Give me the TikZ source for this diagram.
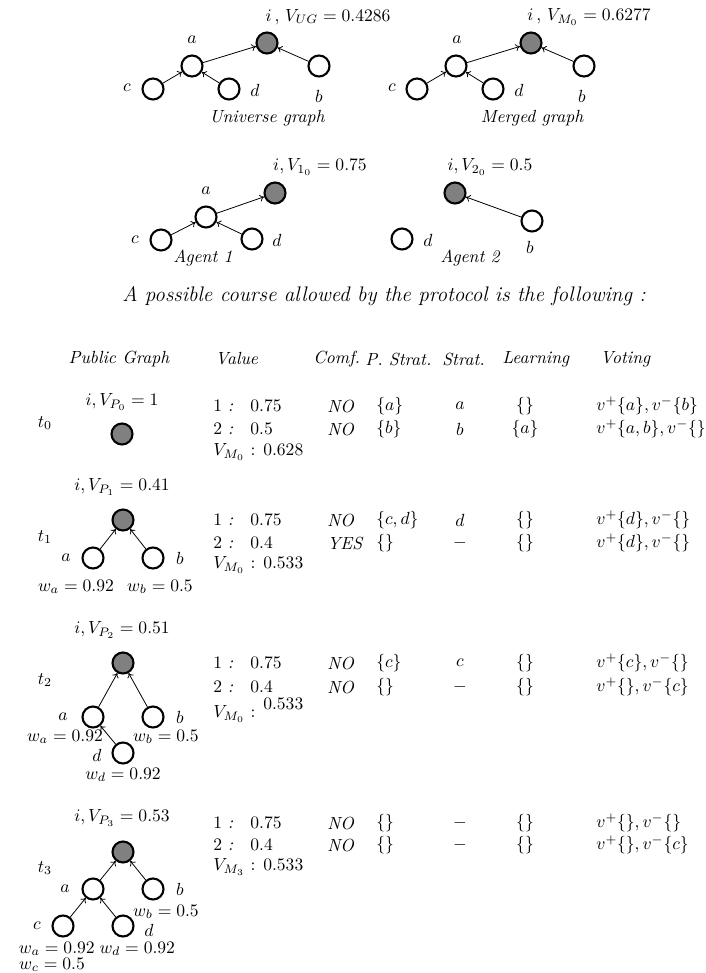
\documentclass[tikz,border=0pt]{standalone}
\usepackage{amsmath,amssymb}
\usepackage{tikz}
\usetikzlibrary{arrows.meta,positioning}

\begin{document}
\begin{tikzpicture}[x=0.02cm, y=-0.02cm,
  vtx/.style={draw, circle, line width=1.2pt, minimum size=0.42cm, inner sep=0pt, fill=white},
  root/.style={vtx, fill=gray},
  arr/.style={-{To[length=2.5pt,width=4pt]}, line width=0.45pt},
  lbl/.style={inner sep=0pt},
  capt/.style={font=\itshape, inner sep=0pt},
  cell/.style={anchor=west, inner sep=0pt},
  ctr/.style={inner sep=0pt}
]
  \useasboundingbox (0,0) rectangle (706,973);

  % universe graph
  \node[vtx] (uc) at (153,89) {};
  \node[vtx] (ua) at (192,66) {};
  \node[vtx] (ud) at (229,89) {};
  \node[root] (ui) at (267,43) {};
  \node[vtx] (ub) at (319,66) {};
  \node[lbl] (ucl) at (127,88) {$c$};
  \node[lbl] (ual) at (192,40) {$a$};
  \node[lbl] (udl) at (255,90) {$d$};
  \node[lbl] (ubl) at (319,96) {$b$};
  \node[lbl] (uil) at (328,17) {$i\,,\,V_{UG}=0.4286$};
  \node[capt] (ucap) at (267,118) {Universe graph};
  \draw[arr] (uc) -- (ua);
  \draw[arr] (ud) -- (ua);
  \draw[arr] (ua) -- (ui);
  \draw[arr] (ub) -- (ui);

  % merged graph
  \node[vtx] (mc) at (417,89) {};
  \node[vtx] (ma) at (456,66) {};
  \node[vtx] (md) at (493,89) {};
  \node[root] (mi) at (531,43) {};
  \node[vtx] (mb) at (584,66) {};
  \node[lbl] (mcl) at (392,88) {$c$};
  \node[lbl] (mal) at (457,40) {$a$};
  \node[lbl] (mdl) at (519,90) {$d$};
  \node[lbl] (mbl) at (582,96) {$b$};
  \node[lbl, anchor=west] (mil) at (527,17) {$i\,,\,V_{M_0}=0.6277$};
  \node[capt] (mcap) at (532,118) {Merged graph};
  \draw[arr] (mc) -- (ma);
  \draw[arr] (md) -- (ma);
  \draw[arr] (ma) -- (mi);
  \draw[arr] (mb) -- (mi);

  % agents
  \node[vtx] (pc) at (161,240) {};
  \node[vtx] (pa) at (206,217) {};
  \node[vtx] (pd) at (252,239) {};
  \node[root] (pi) at (275,193) {};
  \node[lbl] (pcl) at (135,240) {$c$};
  \node[lbl] (pal) at (206,191) {$a$};
  \node[lbl] (pdl) at (277,240) {$d$};
  \node[lbl] (pil) at (320,167) {$i,V_{1_0}=0.75$};
  \node[capt] (pcap) at (203,258) {Agent 1};
  \draw[arr] (pc) -- (pa);
  \draw[arr] (pd) -- (pa);
  \draw[arr] (pa) -- (pi);

  \node[vtx] (qd) at (402,239) {};
  \node[root] (qi) at (455,193) {};
  \node[vtx] (qb) at (532,221) {};
  \node[lbl] (qdl) at (428,240) {$d$};
  \node[lbl] (qbl) at (530,247) {$b$};
  \node[lbl] (qil) at (490,167) {$i,V_{2_0}=0.5$};
  \node[capt] (qcap) at (470,258) {Agent 2};
  \draw[arr] (qb) -- (qi);

  \node[capt, font=\large\itshape] (title) at (384,296)
    {A possible course allowed by the protocol is the following :};

  % table header
  \node[capt] (hpub) at (119,359) {Public Graph};
  \node[capt, anchor=west] (hval) at (215,359) {Value};
  \node[capt, anchor=west] (hcomf) at (313,359) {Comf.};
  \node[capt, anchor=west] (hps) at (365,359) {P. Strat.};
  \node[capt, anchor=west] (hst) at (442,359) {Strat.};
  \node[capt, anchor=west] (hlrn) at (502,359) {Learning};
  \node[capt, anchor=west] (hvot) at (600,359) {Voting};

  % t0
  \node[lbl] (t0) at (45,423) {$t_0$};
  \node[lbl] (g0l) at (122,402) {$i,V_{P_0}=1$};
  \node[root] (g0i) at (122,434) {};
  \node[cell] (k01) at (213,406) {$1$ \textit{:}};
  \node[cell] (n01) at (250,406) {$0.75$};
  \node[cell] (f01) at (327,406) {\textit{NO}};
  \node[cell] (p01) at (376,406) {$\{a\}$};
  \node[ctr] (s01) at (460,406) {$a$};
  \node[ctr] (l01) at (525,406) {$\{\}$};
  \node[cell] (o01) at (596,406) {$v^{+}\{a\},v^{-}\{b\}$};
  \node[cell] (k02) at (213,429) {$2$ \textit{:}};
  \node[cell] (n02) at (250,429) {$0.5$};
  \node[cell] (f02) at (327,429) {\textit{NO}};
  \node[cell] (p02) at (376,429) {$\{b\}$};
  \node[ctr] (s02) at (460,429) {$b$};
  \node[ctr] (l02) at (525,429) {$\{a\}$};
  \node[cell] (o02) at (596,429) {$v^{+}\{a,b\},v^{-}\{\}$};
  \node[cell] (m0) at (213,452) {$V_{M_0}$ : $0.628$};

  % t1
  \node[lbl] (t1) at (45,537) {$t_1$};
  \node[lbl] (g1l) at (122,487) {$i,V_{P_1}=0.41$};
  \node[root] (g1i) at (123,520) {};
  \node[vtx] (g1a) at (93,558) {};
  \node[vtx] (g1b) at (153,558) {};
  \node[lbl] (g1al) at (66,558) {$a$};
  \node[lbl] (g1bl) at (180,558) {$b$};
  \node[lbl] (g1wa) at (76,587) {$w_a=0.92$};
  \node[lbl] (g1wb) at (160,587) {$w_b=0.5$};
  \draw[arr] (g1a) -- (g1i);
  \draw[arr] (g1b) -- (g1i);
  \node[cell] (k11) at (213,520) {$1$ \textit{:}};
  \node[cell] (n11) at (250,520) {$0.75$};
  \node[cell] (f11) at (327,520) {\textit{NO}};
  \node[cell] (p11) at (376,520) {$\{c,d\}$};
  \node[ctr] (s11) at (460,520) {$d$};
  \node[ctr] (l11) at (525,520) {$\{\}$};
  \node[cell] (o11) at (596,520) {$v^{+}\{d\},v^{-}\{\}$};
  \node[cell] (k12) at (213,543) {$2$ \textit{:}};
  \node[cell] (n12) at (250,543) {$0.4$};
  \node[cell] (f12) at (327,543) {\textit{YES}};
  \node[cell] (p12) at (376,543) {$\{\}$};
  \node[ctr] (s12) at (460,543) {$-$};
  \node[ctr] (l12) at (525,543) {$\{\}$};
  \node[cell] (o12) at (596,543) {$v^{+}\{d\},v^{-}\{\}$};
  \node[cell] (m1) at (213,565) {$V_{M_0}$ : $0.533$};

  % t2
  \node[lbl] (t2) at (45,680) {$t_2$};
  \node[lbl] (g2l) at (122,630) {$i,V_{P_2}=0.51$};
  \node[root] (g2i) at (123,663) {};
  \node[vtx] (g2a) at (93,717) {};
  \node[vtx] (g2b) at (153,717) {};
  \node[vtx] (g2d) at (123,753) {};
  \node[lbl] (g2al) at (63,717) {$a$};
  \node[lbl] (g2bl) at (180,717) {$b$};
  \node[lbl] (g2dl) at (97,755) {$d$};
  \node[lbl] (g2wa) at (65,737) {$w_a=0.92$};
  \node[lbl] (g2wb) at (166,737) {$w_b=0.5$};
  \node[lbl] (g2wd) at (123,775) {$w_d=0.92$};
  \draw[arr] (g2a) -- (g2i);
  \draw[arr] (g2b) -- (g2i);
  \draw[arr] (g2d) -- (g2a);
  \node[cell] (k21) at (213,663) {$1$ \textit{:}};
  \node[cell] (n21) at (250,663) {$0.75$};
  \node[cell] (f21) at (327,663) {\textit{NO}};
  \node[cell] (p21) at (376,663) {$\{c\}$};
  \node[ctr] (s21) at (460,663) {$c$};
  \node[ctr] (l21) at (525,663) {$\{\}$};
  \node[cell] (o21) at (596,663) {$v^{+}\{c\},v^{-}\{\}$};
  \node[cell] (k22) at (213,687) {$2$ \textit{:}};
  \node[cell] (n22) at (250,687) {$0.4$};
  \node[cell] (f22) at (327,687) {\textit{NO}};
  \node[cell] (p22) at (376,687) {$\{\}$};
  \node[ctr] (s22) at (460,687) {$-$};
  \node[ctr] (l22) at (525,687) {$\{\}$};
  \node[cell] (o22) at (596,687) {$v^{+}\{\},v^{-}\{c\}$};
  \node[cell] (m2) at (213,710) {$V_{M_0}$ : \raisebox{5pt}{$0.533$}};

  % t3
  \node[lbl] (t3) at (45,868) {$t_3$};
  \node[lbl] (g3l) at (122,818) {$i,V_{P_3}=0.53$};
  \node[root] (g3i) at (123,852) {};
  \node[vtx] (g3a) at (93,889) {};
  \node[vtx] (g3b) at (153,889) {};
  \node[vtx] (g3c) at (63,926) {};
  \node[vtx] (g3d) at (123,926) {};
  \node[lbl] (g3al) at (65,889) {$a$};
  \node[lbl] (g3bl) at (180,889) {$b$};
  \node[lbl] (g3cl) at (37,926) {$c$};
  \node[lbl] (g3dl) at (149,930) {$d$};
  \node[lbl] (g3wb) at (166,912) {$w_b=0.5$};
  \node[lbl] (g3wad) at (97,949) {$w_a=0.92\;w_d=0.92$};
  \node[lbl] (g3wc) at (52,965) {$w_c=0.5$};
  \draw[arr] (g3a) -- (g3i);
  \draw[arr] (g3b) -- (g3i);
  \draw[arr] (g3c) -- (g3a);
  \draw[arr] (g3d) -- (g3a);
  \node[cell] (k31) at (213,823) {$1$ \textit{:}};
  \node[cell] (n31) at (250,823) {$0.75$};
  \node[cell] (f31) at (327,823) {\textit{NO}};
  \node[cell] (p31) at (376,823) {$\{\}$};
  \node[ctr] (s31) at (460,823) {$-$};
  \node[ctr] (l31) at (525,823) {$\{\}$};
  \node[cell] (o31) at (596,823) {$v^{+}\{\},v^{-}\{\}$};
  \node[cell] (k32) at (213,845) {$2$ \textit{:}};
  \node[cell] (n32) at (250,845) {$0.4$};
  \node[cell] (f32) at (327,845) {\textit{NO}};
  \node[cell] (p32) at (376,845) {$\{\}$};
  \node[ctr] (s32) at (460,845) {$-$};
  \node[ctr] (l32) at (525,845) {$\{\}$};
  \node[cell] (o32) at (596,845) {$v^{+}\{\},v^{-}\{c\}$};
  \node[cell] (m3) at (213,867) {$V_{M_3}$ : $0.533$};
\end{tikzpicture}
\end{document}
